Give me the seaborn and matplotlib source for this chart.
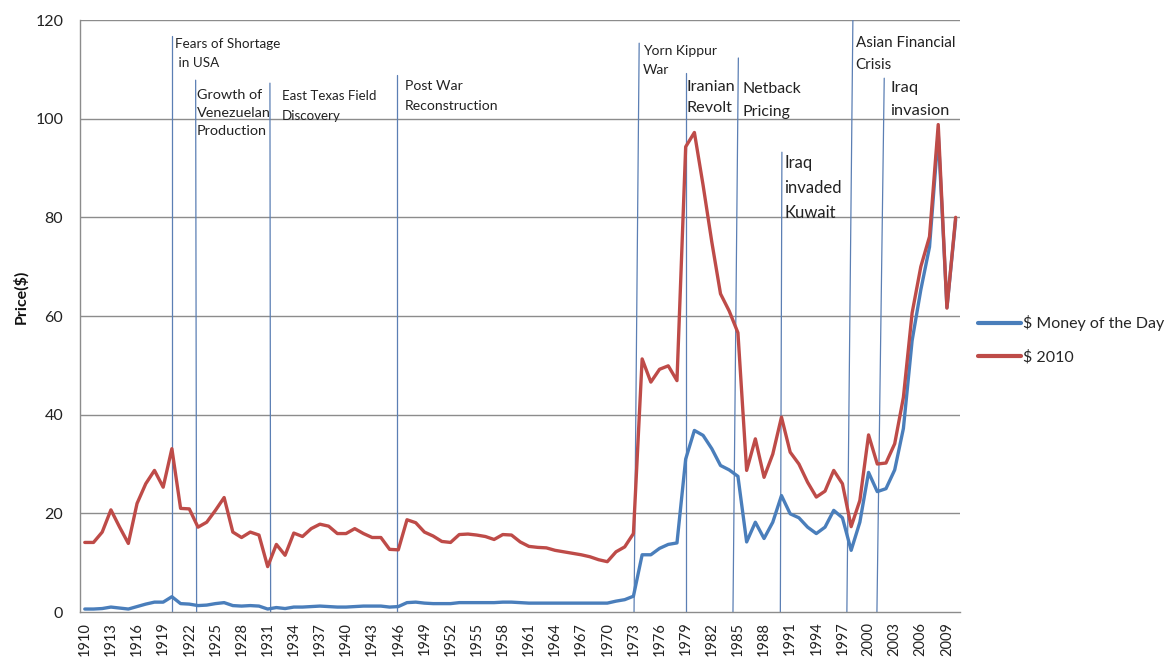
import numpy as np
import pandas as pd
import matplotlib
matplotlib.use("Agg")
import matplotlib.pyplot as plt
import seaborn as sns

# ---------------- data ----------------
years = list(range(1910, 2011))

money_of_day = [
    0.6, 0.6, 0.7, 1.0, 0.8, 0.6, 1.1, 1.6, 2.0, 2.0,      # 1910-1919
    3.1, 1.7, 1.6, 1.3, 1.4, 1.7, 1.9, 1.3, 1.2, 1.3,      # 1920-1929
    1.2, 0.6, 0.9, 0.7, 1.0, 1.0, 1.1, 1.2, 1.1, 1.0,      # 1930-1939
    1.0, 1.1, 1.2, 1.2, 1.2, 1.0, 1.1, 1.9, 2.0, 1.8,      # 1940-1949
    1.7, 1.7, 1.7, 1.9, 1.9, 1.9, 1.9, 1.9, 2.0, 2.0,      # 1950-1959
    1.9, 1.8, 1.8, 1.8, 1.8, 1.8, 1.8, 1.8, 1.8, 1.8,      # 1960-1969
    1.8, 2.2, 2.5, 3.2, 11.6, 11.6, 12.9, 13.7, 14.0, 31.0,  # 1970-1979
    36.8, 35.8, 33.1, 29.7, 28.8, 27.5, 14.2, 18.2, 14.9, 18.2,  # 1980-1989
    23.6, 19.9, 19.1, 17.2, 15.9, 17.2, 20.6, 19.1, 12.5, 18.2,  # 1990-1999
    28.3, 24.4, 25.0, 28.8, 37.2, 55.0, 65.3, 74.0, 97.0, 61.7,  # 2000-2009
    79.5,                                                    # 2010
]

dollars_2010 = [
    14.1, 14.1, 16.2, 20.7, 17.2, 13.9, 22.0, 26.0, 28.7, 25.3,  # 1910-1919
    33.1, 21.0, 20.9, 17.2, 18.2, 20.6, 23.2, 16.2, 15.1, 16.2,  # 1920-1929
    15.6, 9.2, 13.7, 11.5, 16.0, 15.3, 16.9, 17.8, 17.4, 15.9,   # 1930-1939
    15.9, 16.9, 15.9, 15.1, 15.1, 12.7, 12.6, 18.7, 18.1, 16.2,  # 1940-1949
    15.4, 14.3, 14.1, 15.7, 15.8, 15.6, 15.3, 14.7, 15.7, 15.6,  # 1950-1959
    14.2, 13.3, 13.1, 13.0, 12.5, 12.2, 11.9, 11.6, 11.2, 10.6,  # 1960-1969
    10.2, 12.2, 13.2, 15.9, 51.3, 46.6, 49.2, 49.9, 46.9, 94.3,  # 1970-1979
    97.2, 86.5, 75.0, 64.5, 61.0, 56.6, 28.7, 35.1, 27.3, 32.0,  # 1980-1989
    39.5, 32.4, 30.0, 26.3, 23.3, 24.5, 28.7, 26.0, 17.3, 22.6,  # 1990-1999
    35.9, 30.0, 30.2, 34.1, 43.5, 60.6, 70.0, 76.1, 98.8, 61.6,  # 2000-2009
    80.0,                                                    # 2010
]

series_names = ["$ Money of the Day", "$ 2010"]

event_labels = [
    "Fears of Shortage\n in USA",
    "Growth of\nVenezuelan\nProduction",
    "East Texas Field\nDiscovery",
    "Post War\nReconstruction",
    "Yorn Kippur\nWar",
    "Iranian\nRevolt",
    "Netback\nPricing",
    "Iraq\ninvaded\nKuwait",
    "Asian Financial\nCrisis",
    "Iraq\ninvasion",
]

# ---------------- layout (positions / styles) ----------------
# event line: (x at bottom, x at top, top value)
event_lines = [
    (1920.04, 1920.04, 116.8),
    (1922.84, 1922.73, 107.8),
    (1931.34, 1931.26, 107.2),
    (1945.8, 1945.8, 108.9),
    (1973.07, 1973.66, 115.3),
    (1978.98, 1978.98, 109.3),
    (1984.43, 1985.05, 112.3),
    (1989.87, 1990.05, 93.2),
    (1997.51, 1998.2, 120.0),
    (2000.96, 2001.8, 108.2),
]
# text: (x year of left edge, y value of block centre, fontsize, linespacing)
event_text = [
    (1920.35, 113.2, 9.7, 1.70),
    (1922.85, 101.2, 10.4, 1.62),
    (1932.63, 102.6, 9.6, 1.85),
    (1946.75, 104.6, 10.1, 1.72),
    (1974.07, 111.8, 10.0, 1.73),
    (1979.12, 104.3, 11.7, 1.60),
    (1985.49, 103.7, 11.4, 1.75),
    (1990.31, 86.0, 12.0, 1.68),
    (1998.51, 113.1, 10.9, 1.78),
    (2002.47, 103.9, 11.8, 1.88),
]

BLUE = "#4A7EBB"
RED = "#BE4B48"
LINE_BLUE = "#5B7FB4"
GRID = "#8C8C8C"

sns.set_theme(style="white")
plt.rcParams["font.family"] = ["Lato", "DejaVu Sans"]

df = pd.DataFrame({
    "Year": years * 2,
    "Price": money_of_day + dollars_2010,
    "Series": [series_names[0]] * len(years) + [series_names[1]] * len(years),
})

fig = plt.figure(figsize=(11.66, 6.62), dpi=100)
ax = fig.add_axes([80 / 1166, 50 / 662, 880 / 1166, 592 / 662])

sns.lineplot(data=df, x="Year", y="Price", hue="Series", hue_order=series_names,
             palette=[BLUE, RED], linewidth=2.4, ax=ax, legend=False, zorder=3)

ax.set_xlim(1909.45, 2010.5)
ax.set_ylim(0, 120)
ax.set_yticks(range(0, 121, 20))
ax.set_xticks(years[::3])
ax.set_xticklabels([str(y) for y in years[::3]], rotation=90, fontsize=10.5, color="#222222")
ax.tick_params(axis="x", length=0, pad=7)
ax.tick_params(axis="y", length=0, pad=12, labelsize=11.5, labelcolor="#222222")

for y in range(20, 121, 20):
    ax.axhline(y, color=GRID, lw=1.0, zorder=1)

for side in ["top", "right"]:
    ax.spines[side].set_visible(False)
for side in ["left", "bottom"]:
    ax.spines[side].set_color(GRID)
    ax.spines[side].set_linewidth(1.0)

ax.set_xlabel("")
ax.set_ylabel("Price($)", fontsize=11.5, fontweight="bold", color="#111111")
ax.yaxis.set_label_coords(-0.059, 0.533)

for (xb, xt, top), label, (tx, ty, fs, ls) in zip(event_lines, event_labels, event_text):
    ax.plot([xb, xt], [0, top], color=LINE_BLUE, lw=0.9, zorder=2)
    ax.text(tx, ty, label, fontsize=fs, ha="left", va="center", color="#222222",
            linespacing=ls, zorder=4)

handles = [plt.Line2D([], [], color=BLUE, lw=3), plt.Line2D([], [], color=RED, lw=3)]
fig.legend(handles, series_names, loc="center left", bbox_to_anchor=(978 / 1166, 1 - 340 / 662),
           frameon=False, fontsize=11.5, handlelength=2.7, handletextpad=0.1,
           labelspacing=1.2, borderpad=0, borderaxespad=0)

fig.savefig("out.png", dpi=100)
